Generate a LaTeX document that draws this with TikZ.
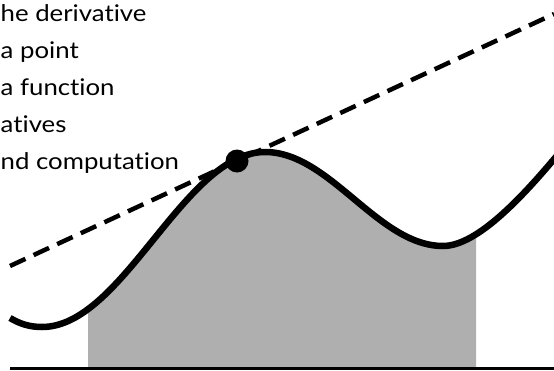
\documentclass[tikz,border=0pt]{standalone}
\usepackage{fontspec}
\setmainfont{Lato}
\newfontfamily\lblfont[FakeStretch=1.12,Ligatures=NoCommon]{Lato}
\definecolor{areagray}{HTML}{AFAFAF}
\begin{document}
\begin{tikzpicture}[x=1pt,y=-1pt,
  curve/.style={line width=6.5pt, line join=round},
  tangent/.style={line width=4.5pt, dash pattern=on 17pt off 9pt},
  axisline/.style={line width=2.5pt},
  lbl/.style={anchor=base west, inner sep=0pt, font=\lblfont\fontsize{23}{28}\selectfont}]
\useasboundingbox (0,0) rectangle (554,370);
\clip (0,0) rectangle (554,370);
\def\curvepath{(10,318) .. controls (20,324) and (30,327) .. (42,327)
  .. controls (123,327) and (184,152) .. (265,152)
  .. controls (330,152) and (378,246) .. (443,246)
  .. controls (478,246) and (525,194) .. (560,152)}
\begin{scope}
  \clip (88,0) rectangle (476,368);
  \fill[areagray] \curvepath -- (560,368) -- (10,368) -- cycle;
\end{scope}
\draw[tangent] (10,266) -- (554,14);
\draw[curve] \curvepath;
\fill (237,161) circle (11.5pt);
\coordinate (axl) at (10,368.5);
\coordinate (axr) at (554,368.5);
\draw[axisline] (axl) -- (axr);
\node[lbl] (t1) at (0.5,21) {he derivative};
\node[lbl] (t2) at (0.5,58) {a point};
\node[lbl] (t3) at (0.5,95) {a function};
\node[lbl] (t4) at (0.5,132) {atives};
\node[lbl] (t5) at (0.5,169) {nd computation};
\end{tikzpicture}
\end{document}
